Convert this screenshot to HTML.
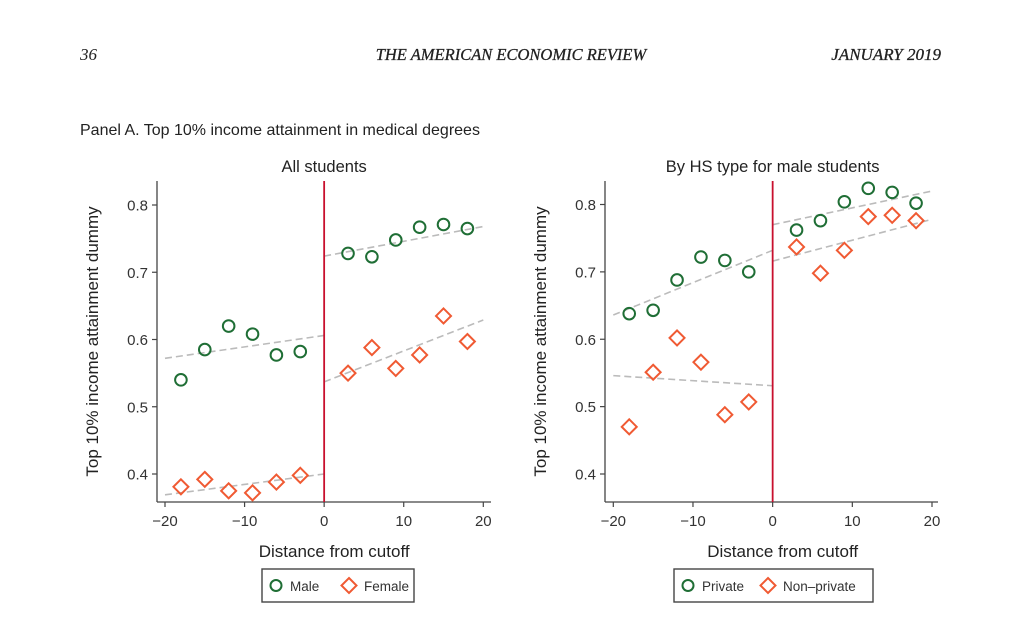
<!DOCTYPE html>
<html><head><meta charset="utf-8"><style>
body{margin:0;background:#fff;}
svg{display:block;}
</style></head><body>
<svg id="s" width="1024" height="621" xmlns="http://www.w3.org/2000/svg" font-family="Liberation Sans, sans-serif">
<rect width="1024" height="621" fill="#fff"/>
<text x="80" y="60" font-family="Liberation Serif, serif" font-style="italic" font-size="17" fill="#222">36</text>
<text x="511" y="60" text-anchor="middle" font-family="Liberation Serif, serif" font-style="italic" font-size="16.5" fill="#222" stroke="#222" stroke-width="0.3">THE AMERICAN ECONOMIC REVIEW</text>
<text x="941" y="60" text-anchor="end" font-family="Liberation Serif, serif" font-style="italic" font-size="17" fill="#222" stroke="#222" stroke-width="0.3">JANUARY 2019</text>
<text x="80" y="135" font-size="16" fill="#222">Panel A. Top 10% income attainment in medical degrees</text>
<g id="p1"></g><g id="p2"></g>
</svg>
<script>
var NS="http://www.w3.org/2000/svg";
function el(p,t,a,txt){var e=document.createElementNS(NS,t);for(var k in a)e.setAttribute(k,a[k]);if(txt)e.textContent=txt;p.appendChild(e);return e;}
var G="#1f6e35",O="#f05a33";
function panel(g,o){
 var X=function(v){return o.x0+(v+20)*(o.x20-o.x0)/40;};
 var Y=function(v){return o.y8+(0.8-v)*(o.y4-o.y8)/0.4;};
 el(g,"text",{x:X(0),y:172,"text-anchor":"middle","font-size":"16.5",fill:"#222"},o.title);
 el(g,"line",{x1:o.ax,y1:181,x2:o.ax,y2:502,stroke:"#444","stroke-width":1.3});
 el(g,"line",{x1:o.ax,y1:502,x2:o.xr,y2:502,stroke:"#444","stroke-width":1.3});
 [0.4,0.5,0.6,0.7,0.8].forEach(function(v){el(g,"line",{x1:o.ax-5,y1:Y(v),x2:o.ax,y2:Y(v),stroke:"#444","stroke-width":1.2});
  el(g,"text",{x:o.ax-9,y:Y(v)+5.5,"text-anchor":"end","font-size":"15",fill:"#333"},v.toFixed(1));});
 [-20,-10,0,10,20].forEach(function(v){el(g,"line",{x1:X(v),y1:502,x2:X(v),y2:507,stroke:"#444","stroke-width":1.2});
  el(g,"text",{x:X(v),y:526,"text-anchor":"middle","font-size":"15",fill:"#333"},(v<0?"\u2212":"")+Math.abs(v));});
 el(g,"text",{x:X(0)+10,y:557,"text-anchor":"middle","font-size":"17",fill:"#222"},"Distance from cutoff");
 el(g,"text",{x:0,y:0,"text-anchor":"middle","font-size":"17",fill:"#222",transform:"translate("+(o.ax-59)+","+((181+502)/2)+") rotate(-90)"},"Top 10% income attainment dummy");
 o.lines.forEach(function(l){el(g,"line",{x1:X(l[0]),y1:Y(l[1]),x2:X(l[2]),y2:Y(l[3]),stroke:"#bbb","stroke-width":1.6,"stroke-dasharray":"7,4"});});
 el(g,"line",{x1:X(0),y1:181,x2:X(0),y2:502,stroke:"#c8102e","stroke-width":1.8});
 o.c.forEach(function(p){el(g,"circle",{cx:X(p[0]),cy:Y(p[1]),r:5.8,fill:"none",stroke:G,"stroke-width":2});});
 o.d.forEach(function(p){var x=X(p[0]),y=Y(p[1]);el(g,"polygon",{points:(x)+","+(y-7.5)+" "+(x+7.5)+","+y+" "+x+","+(y+7.5)+" "+(x-7.5)+","+y,fill:"none",stroke:O,"stroke-width":2});});
 var L=o.leg;
 el(g,"rect",{x:L[0],y:569,width:L[1],height:33,fill:"none",stroke:"#444","stroke-width":1.4});
 el(g,"circle",{cx:L[0]+14,cy:585.5,r:5.5,fill:"none",stroke:G,"stroke-width":2});
 el(g,"text",{x:L[0]+28,y:591,"font-size":"13.5",fill:"#333"},o.n1);
 var dx=L[0]+L[2];
 el(g,"polygon",{points:dx+",578 "+(dx+7.5)+",585.5 "+dx+",593 "+(dx-7.5)+",585.5",fill:"none",stroke:O,"stroke-width":2});
 el(g,"text",{x:dx+15,y:591,"font-size":"13.5",fill:"#333"},o.n2);
}
panel(document.getElementById("p1"),{x0:165,x20:483.3,ax:157,xr:491,y8:205,y4:474,title:"All students",
 lines:[[-20,.572,0,.606],[0,.724,20,.768],[-20,.369,0,.40],[0,.537,20,.629]],
 c:[[-18,.54],[-15,.585],[-12,.62],[-9,.608],[-6,.577],[-3,.582],[3,.728],[6,.723],[9,.748],[12,.767],[15,.771],[18,.765]],
 d:[[-18,.381],[-15,.392],[-12,.375],[-9,.372],[-6,.388],[-3,.398],[3,.55],[6,.588],[9,.557],[12,.577],[15,.635],[18,.597]],
 leg:[262,152,87],n1:"Male",n2:"Female"});
panel(document.getElementById("p2"),{x0:613.3,x20:932,ax:605,xr:938,y8:204.5,y4:474,title:"By HS type for male students",
 lines:[[-20,.636,0,.732],[0,.77,20,.82],[-20,.546,0,.531],[0,.716,20,.778]],
 c:[[-18,.638],[-15,.643],[-12,.688],[-9,.722],[-6,.717],[-3,.70],[3,.762],[6,.776],[9,.804],[12,.824],[15,.818],[18,.802]],
 d:[[-18,.47],[-15,.551],[-12,.602],[-9,.566],[-6,.488],[-3,.507],[3,.737],[6,.698],[9,.732],[12,.782],[15,.784],[18,.776]],
 leg:[674,199,94],n1:"Private",n2:"Non\u2013private"});
</script>
</body></html>
